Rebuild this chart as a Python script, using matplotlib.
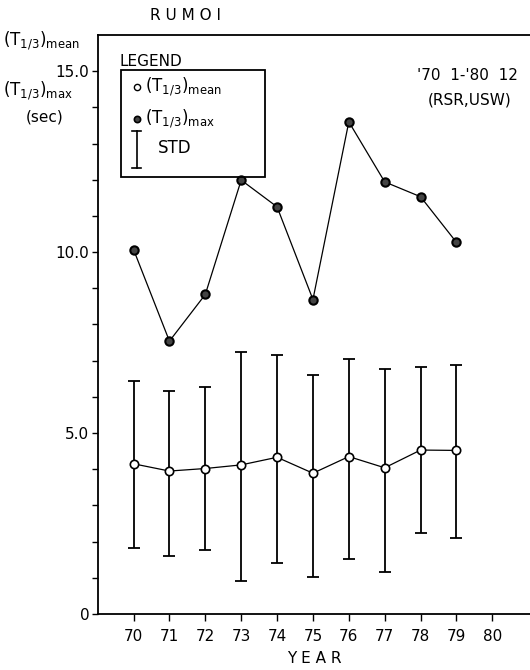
import matplotlib.pyplot as plt
from matplotlib.patches import Rectangle

years = [70, 71, 72, 73, 74, 75, 76, 77, 78, 79]
t_mean = [4.15, 3.95, 4.02, 4.12, 4.33, 3.89, 4.35, 4.04, 4.53, 4.52]
t_max = [10.07, 7.54, 8.83, 11.99, 11.25, 8.69, 13.60, 11.94, 11.53, 10.27]
std_high = [6.44, 6.16, 6.27, 7.25, 7.17, 6.61, 7.04, 6.77, 6.82, 6.89]
std_low = [1.82, 1.60, 1.77, 0.91, 1.42, 1.02, 1.53, 1.15, 2.24, 2.11]
xticks = [70, 71, 72, 73, 74, 75, 76, 77, 78, 79, 80]
yticks = [0, 5, 10, 15]
ylabels = ['0', '5.0', '10.0', '15.0']

plt.rcParams['font.family'] = ['DejaVu Sans']
plt.rcParams['mathtext.fontset'] = 'dejavusans'

fig = plt.figure(figsize=(5.3, 6.7), dpi=100)
ax = fig.add_axes([0.1843, 0.0836, 0.8157, 0.8642])

# STD bars
err_lo = [m - l for m, l in zip(t_mean, std_low)]
err_hi = [h - m for h, m in zip(std_high, t_mean)]
ax.errorbar(years, t_mean, yerr=[err_lo, err_hi], fmt='none', ecolor='black',
            elinewidth=1.3, capsize=4, capthick=1.3, zorder=2)

# mean and max lines
ax.plot(years, t_mean, color='black', lw=0.9, marker='o', ms=6,
        mfc='white', mec='black', mew=1.2, zorder=3)
ax.plot(years, t_max, color='black', lw=0.9, marker='o', ms=6,
        mfc='#444444', mec='black', mew=1.5, zorder=3)

ax.set_xlim(69, 81.05)
ax.set_ylim(0, 16)
ax.set_xticks(xticks)
ax.set_xticklabels([str(x) for x in xticks], fontsize=11)
ax.set_yticks(yticks)
ax.set_yticklabels(ylabels, fontsize=11)
ax.set_yticks(range(0, 16), minor=True)
ax.tick_params(axis='y', which='both', direction='out', length=4, width=1, pad=2)
ax.tick_params(axis='x', direction='out', length=5, width=1, pad=6)
ax.spines['right'].set_visible(False)
for s in ['left', 'bottom', 'top']:
    ax.spines[s].set_linewidth(1.3)

ax.set_xlabel('Y E A R', fontsize=11, labelpad=5)

# y axis label texts
fig.text(0.005, 0.94, r'$\mathregular{(T_{1/3})_{mean}}$', fontsize=12, ha='left', va='center')
fig.text(0.005, 0.865, r'$\mathregular{(T_{1/3})_{max}}$', fontsize=12, ha='left', va='center')
fig.text(0.085, 0.825, '(sec)', fontsize=11, ha='center', va='center')

fig.text(0.35, 0.977, 'R U M O I', fontsize=11, ha='center', va='center')

ax.text(0.972, 0.93, "'70  1-'80  12", transform=ax.transAxes, fontsize=11,
        ha='right', va='center')
ax.text(0.957, 0.888, '(RSR,USW)', transform=ax.transAxes, fontsize=11,
        ha='right', va='center')

# legend box
ax.text(0.05, 0.955, 'LEGEND', transform=ax.transAxes, fontsize=11, ha='left', va='center')
ax.add_patch(Rectangle((0.053, 0.755), 0.333, 0.185, transform=ax.transAxes,
                       fill=False, lw=1.3, ec='black', zorder=4))
ax.plot([0.09], [0.91], transform=ax.transAxes, marker='o', ms=4.5, mfc='white',
        mec='black', mew=1, clip_on=False)
ax.text(0.11, 0.91, r'$\mathregular{(T_{1/3})_{mean}}$', transform=ax.transAxes,
        fontsize=12, ha='left', va='center')
ax.plot([0.09], [0.855], transform=ax.transAxes, marker='o', ms=4.5, mfc='#444444',
        mec='black', mew=1.2, clip_on=False)
ax.text(0.11, 0.855, r'$\mathregular{(T_{1/3})_{max}}$', transform=ax.transAxes,
        fontsize=12, ha='left', va='center')
ax.plot([0.09, 0.09], [0.77, 0.835], transform=ax.transAxes, color='black', lw=1.2)
ax.plot([0.08, 0.10], [0.835, 0.835], transform=ax.transAxes, color='black', lw=1.2)
ax.plot([0.08, 0.10], [0.77, 0.77], transform=ax.transAxes, color='black', lw=1.2)
ax.text(0.14, 0.805, 'STD', transform=ax.transAxes, fontsize=12, ha='left', va='center')

plt.savefig('out.png', dpi=100)
